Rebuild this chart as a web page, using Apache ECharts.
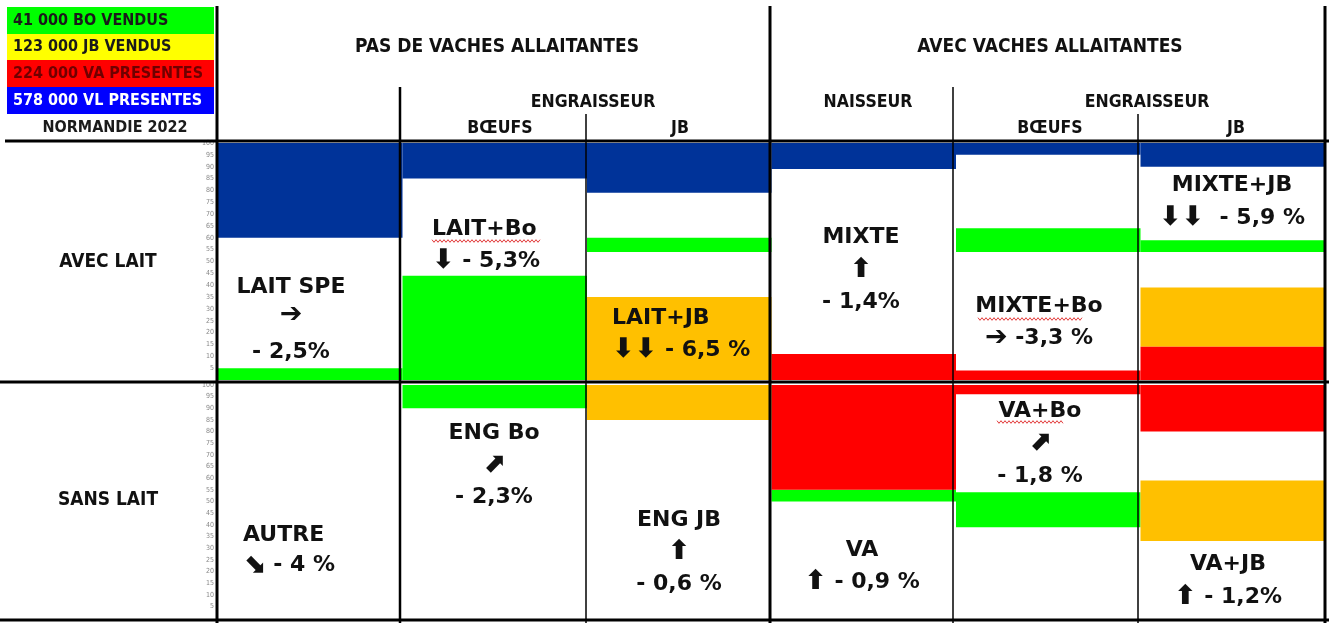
<!DOCTYPE html>
<html lang="fr">
<head>
<meta charset="UTF-8">
<title>Normandie 2022</title>
<script src="https://cdn.jsdelivr.net/npm/echarts@6/dist/echarts.min.js"></script>
<style>
html,body{margin:0;padding:0;background:#fff;}
#chart{width:1329px;height:623px;}
</style>
</head>
<body>
<div id="chart"></div>
<script>
// colonnes (ligne AVEC LAIT / ligne SANS LAIT)
var colonnesHaut = ['LAIT SPE', 'LAIT+Bo', 'LAIT+JB', 'MIXTE', 'MIXTE+Bo', 'MIXTE+JB'];
var colonnesBas = ['AUTRE', 'ENG Bo', 'ENG JB', 'VA', 'VA+Bo', 'VA+JB'];

// bandes : [colonne, bas, haut] en %
var bleuHaut = [[0, 60, 100], [1, 85, 100], [2, 79, 100], [3, 89, 100], [4, 95, 100], [5, 90, 100]];
var vertHaut = [[0, 0, 5], [1, 0, 44], [2, 54, 60], [4, 54, 64], [5, 54, 59]];
var orangeHaut = [[2, 0, 35], [5, 14, 39]];
var rougeHaut = [[3, 0, 11], [4, 0, 4], [5, 0, 14]];

var vertBas = [[1, 90, 100], [3, 50, 55], [4, 39, 54]];
var orangeBas = [[2, 85, 100], [5, 33, 59]];
var rougeBas = [[3, 55, 100], [4, 96, 100], [5, 80, 100]];

// legende
var legende = ['41 000 BO VENDUS', '123 000 JB VENDUS', '224 000 VA PRESENTES', '578 000 VL PRESENTES'];

// textes des cases ({f|..} = fleche)
var etiquettesHaut = [
	['LAIT SPE', '{f|\u2794}', '- 2,5%'],
	['LAIT+Bo', '{f|\u2B07} - 5,3%'],
	['LAIT+JB', '{f|\u2B07\u2B07} - 6,5 %'],
	['MIXTE', '{f|\u2B06}', '- 1,4%'],
	['MIXTE+Bo', '{f|\u2794} -3,3 %'],
	['MIXTE+JB', '{f|\u2B07\u2B07}  - 5,9 %']
];
var etiquettesBas = [
	['AUTRE', '{f|\u2B0A} - 4 %'],
	['ENG Bo', '{f|\u2B08}', '- 2,3%'],
	['ENG JB', '{f|\u2B06}', '- 0,6 %'],
	['VA', '{f|\u2B06} - 0,9 %'],
	['VA+Bo', '{f|\u2B08}', '- 1,8 %'],
	['VA+JB', '{f|\u2B06} - 1,2%']
];

var chart = echarts.init(document.getElementById('chart'));

var cond = "'DejaVu Sans Condensed','Liberation Sans Narrow',sans-serif";
var grosse = "bold 22px 'DejaVu Sans',sans-serif";

function bande(data, couleur, idx) {
	return {
		type: 'custom',
		xAxisIndex: idx,
		yAxisIndex: idx,
		data: data,
		encode: {x: 0, y: [1, 2]},
		silent: true,
		renderItem: function (params, api) {
			var haut = api.coord([api.value(0), api.value(2)]);
			var bas = api.coord([api.value(0), api.value(1)]);
			var w = api.size([1, 0])[0];
			return {
				type: 'rect',
				shape: {x: haut[0] - w / 2, y: haut[1], width: w, height: bas[1] - haut[1]},
				style: {fill: couleur}
			};
		}
	};
}

function axeY(idx) {
	return {
		gridIndex: idx, type: 'value', min: 0, max: 100, interval: 5,
		axisLine: {show: false}, axisTick: {show: false}, splitLine: {show: false},
		axisLabel: {
			fontSize: 7, color: '#888', margin: 4, fontFamily: cond,
			formatter: function (v) { return v === 0 ? '' : v; }
		}
	};
}

var g = [];
function ligne(x1, y1, x2, y2, w) {
	g.push({type: 'line', z: 100, shape: {x1: x1, y1: y1, x2: x2, y2: y2}, style: {stroke: '#000', lineWidth: w}});
}
function texte(t, x, y, font, fill, align) {
	g.push({type: 'text', z: 101, x: x, y: y, style: {
		text: t, font: font, fill: fill || '#111', align: align || 'center', verticalAlign: 'middle',
		rich: {f: {font: "bold 27px 'DejaVu Sans',sans-serif", fill: '#111'}}
	}});
}
function vague(x0, x1, y) {
	var pts = [];
	for (var x = x0, k = 0; x <= x1; x += 2, k++) pts.push([x, y + (k % 2 ? 1.3 : -1.3)]);
	g.push({type: 'polyline', z: 101, shape: {points: pts}, style: {stroke: '#e23a3a', lineWidth: 1, fill: null}});
}

// legende
var legCouleurs = ['#00ff00', '#ffff00', '#ff0000', '#0000ff'];
var legTexte = ['#1a1a1a', '#1a1a1a', '#700000', '#ffffff'];
var legY = [7, 34, 60, 87];
var legH = [27, 26, 27, 27];
for (var i = 0; i < legende.length; i++) {
	g.push({type: 'rect', z: 50, shape: {x: 7, y: legY[i], width: 207, height: legH[i]}, style: {fill: legCouleurs[i]}});
	texte(legende[i], 13, legY[i] + legH[i] / 2, 'bold 16px ' + cond, legTexte[i], 'left');
}
texte('NORMANDIE 2022', 115, 128, 'bold 16px ' + cond, '#1a1a1a');

// en-tetes
var fh = 'bold 19px ' + cond;
var fs = 'bold 17.5px ' + cond;
texte('PAS DE VACHES ALLAITANTES', 497, 47, fh);
texte('AVEC VACHES ALLAITANTES', 1050, 47, fh);
texte('ENGRAISSEUR', 593, 102, fs);
texte('B\u0152UFS', 500, 128, fs);
texte('JB', 680, 128, fs);
texte('NAISSEUR', 868, 102, fs);
texte('ENGRAISSEUR', 1147, 102, fs);
texte('B\u0152UFS', 1050, 128, fs);
texte('JB', 1236, 128, fs);
texte('AVEC LAIT', 108, 262, fh);
texte('SANS LAIT', 108, 500, fh);

// traits du tableau
ligne(217, 6, 217, 623, 3);
ligne(770, 6, 770, 623, 3);
ligne(1325, 6, 1325, 623, 3);
ligne(400, 87, 400, 623, 2.5);
ligne(953, 87, 953, 623, 1.5);
ligne(586, 114, 586, 623, 1.5);
ligne(1138, 114, 1138, 623, 1.5);
ligne(5, 141, 1329, 141, 3);
ligne(0, 382, 1329, 382, 3);
ligne(0, 620, 1329, 620, 3);

// textes des cases
var placeHaut = [
	{x: 291, ys: [287, 315, 352], a: 'center'},
	{x: 432, ys: [229, 261], a: 'left'},
	{x: 612, ys: [318, 350], a: 'left'},
	{x: 861, ys: [237, 270, 302], a: 'center'},
	{x: 1039, ys: [306, 338], a: 'center'},
	{x: 1232, ys: [185, 218], a: 'center'}
];
var placeBas = [
	{x: 243, ys: [535, 565], a: 'left'},
	{x: 494, ys: [433, 465, 497], a: 'center'},
	{x: 679, ys: [520, 552, 584], a: 'center'},
	{x: 862, ys: [550, 582], a: 'center'},
	{x: 1040, ys: [411, 443, 476], a: 'center'},
	{x: 1228, ys: [564, 597], a: 'center'}
];
function cases(etiq, place) {
	etiq.forEach(function (lignes, c) {
		lignes.forEach(function (t, j) {
			texte(t, place[c].x, place[c].ys[j], grosse, '#111', place[c].a);
		});
	});
}
cases(etiquettesHaut, placeHaut);
cases(etiquettesBas, placeBas);
vague(432, 540, 241);
vague(978, 1083, 319);
vague(997, 1063, 422);

var option = {
	animation: false,
	backgroundColor: '#fff',
	grid: [
		{left: 218, top: 143, width: 1107, height: 237},
		{left: 218, top: 385, width: 1107, height: 233}
	],
	xAxis: [
		{gridIndex: 0, type: 'category', data: colonnesHaut, show: false},
		{gridIndex: 1, type: 'category', data: colonnesBas, show: false}
	],
	yAxis: [axeY(0), axeY(1)],
	series: [
		bande(bleuHaut, '#003399', 0),
		bande(vertHaut, '#00ff00', 0),
		bande(orangeHaut, '#ffc000', 0),
		bande(rougeHaut, '#ff0000', 0),
		bande(vertBas, '#00ff00', 1),
		bande(orangeBas, '#ffc000', 1),
		bande(rougeBas, '#ff0000', 1)
	],
	graphic: g
};
chart.setOption(option);
</script>
</body>
</html>
